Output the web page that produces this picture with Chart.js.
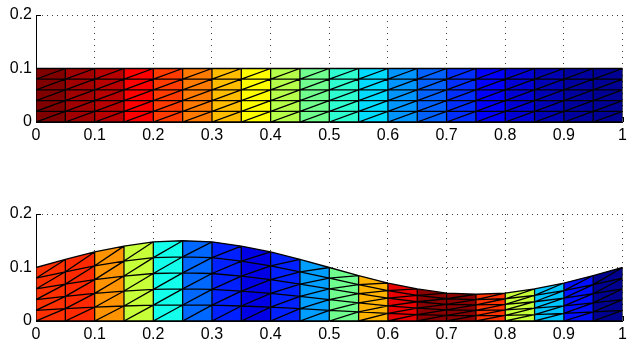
<!DOCTYPE html>
<html><head><meta charset="utf-8">
<script src="https://cdn.jsdelivr.net/npm/chart.js@4.4.0/dist/chart.umd.min.js"></script>
<style>
html,body{margin:0;padding:0;background:#fff;overflow:hidden;width:631px;height:341px}
canvas{position:absolute;left:0}
#c1{top:0}
#c2{top:199px}
</style></head><body>
<canvas id="c1" width="631" height="152"></canvas>
<canvas id="c2" width="631" height="152"></canvas>
<script>
// ---- data ----
const xNodes = [0, 0.05, 0.1, 0.15, 0.2, 0.25, 0.3, 0.35, 0.4, 0.45, 0.5, 0.55, 0.6, 0.65, 0.7, 0.75, 0.8, 0.85, 0.9, 0.95, 1];
const rowFractions = [0, 0.2, 0.4, 0.6, 0.8, 1];
// top boundary height of the mesh at each x node
const topPlotHeights = [0.1, 0.1, 0.1, 0.1, 0.1, 0.1, 0.1, 0.1, 0.1, 0.1, 0.1, 0.1, 0.1, 0.1, 0.1, 0.1, 0.1, 0.1, 0.1, 0.1, 0.1];
const bottomPlotHeights = [0.100, 0.115, 0.129, 0.140, 0.148, 0.150, 0.148, 0.140, 0.129, 0.115, 0.100, 0.085, 0.071, 0.060, 0.052, 0.050, 0.052, 0.060, 0.071, 0.085, 0.100];
// colormap value (0..1, jet) of each column
const topColumnValues = [1.00, 0.967, 0.945, 0.875, 0.817, 0.755, 0.69, 0.625, 0.552, 0.485, 0.42, 0.34, 0.27, 0.22, 0.17, 0.12, 0.083, 0.052, 0.031, 0.02];
const bottomColumnValues = [0.828, 0.835, 0.73, 0.57, 0.395, 0.227, 0.156, 0.10, 0.156, 0.28, 0.485, 0.70, 0.897, 0.99, 0.99, 0.825, 0.57, 0.317, 0.14, 0.016];
const xTickValues = [0, 0.1, 0.2, 0.3, 0.4, 0.5, 0.6, 0.7, 0.8, 0.9, 1];
const xTickLabels = ['0', '0.1', '0.2', '0.3', '0.4', '0.5', '0.6', '0.7', '0.8', '0.9', '1'];
const yTickValues = [0, 0.1, 0.2];
const yTickLabels = ['0', '0.1', '0.2'];

// ---- jet colormap ----
function clamp01(t){ return Math.max(0, Math.min(1, t)); }
function jet(v){
  const r = clamp01(1.5 - Math.abs(4*v - 3));
  const g = clamp01(1.5 - Math.abs(4*v - 2));
  const b = clamp01(1.5 - Math.abs(4*v - 1));
  return 'rgb(' + Math.round(r*255) + ',' + Math.round(g*255) + ',' + Math.round(b*255) + ')';
}

function buildDatasets(heights, values){
  const ds = [];
  const pts = [];
  const gap = () => ({x: 0, y: null});
  const n = xNodes.length;
  // horizontal mesh lines
  for (let j = 0; j < rowFractions.length; j++){
    for (let i = 0; i < n; i++) pts.push({x: xNodes[i], y: heights[i]*rowFractions[j]});
    pts.push(gap());
  }
  // vertical mesh lines
  for (let i = 0; i < n; i++){
    pts.push({x: xNodes[i], y: 0}, {x: xNodes[i], y: heights[i]}, gap());
  }
  // triangle diagonals
  for (let i = 0; i < n-1; i++){
    for (let j = 0; j < rowFractions.length-1; j++){
      pts.push({x: xNodes[i], y: heights[i]*rowFractions[j]},
               {x: xNodes[i+1], y: heights[i+1]*rowFractions[j+1]}, gap());
    }
  }
  ds.push({data: pts, borderColor: '#000', borderWidth: 1.3, pointRadius: 0, fill: false, spanGaps: false, tension: 0});
  for (let i = 0; i < n-1; i++){
    ds.push({
      data: [{x: xNodes[i], y: 0}, {x: xNodes[i+1], y: 0}, {x: xNodes[i+1], y: heights[i+1]}, {x: xNodes[i], y: heights[i]}],
      fill: 'shape', backgroundColor: jet(values[i]), borderWidth: 0, pointRadius: 0, tension: 0
    });
  }
  return ds;
}

const inwardTicks = {
  id: 'inwardTicks',
  beforeDatasetsDraw(chart){
    const {ctx, chartArea: a, scales: {x, y}} = chart;
    ctx.save();
    ctx.strokeStyle = '#000';
    ctx.lineWidth = 1;
    ctx.beginPath();
    x.ticks.forEach(t => { const p = Math.round(x.getPixelForValue(t.value)) + 0.5; ctx.moveTo(p, a.bottom); ctx.lineTo(p, a.bottom - 5); });
    y.ticks.forEach(t => { const p = Math.round(y.getPixelForValue(t.value)) + 0.5; ctx.moveTo(a.left, p); ctx.lineTo(a.left + 5, p); });
    ctx.stroke();
    ctx.restore();
  }
};

Chart.defaults.font.family = '"Liberation Sans", Arial, Helvetica, sans-serif';
Chart.defaults.font.size = 16;
Chart.defaults.color = '#000';

function makeChart(id, heights, values){
  return new Chart(document.getElementById(id), {
    type: 'line',
    data: {datasets: buildDatasets(heights, values)},
    plugins: [inwardTicks],
    options: {
      responsive: false,
      animation: false,
      events: [],
      layout: {padding: {top: 15, right: 5, left: 0, bottom: 0}},
      plugins: {legend: {display: false}, tooltip: {enabled: false}},
      scales: {
        x: {
          type: 'linear', min: 0, max: 1,
          afterBuildTicks: s => { s.ticks = xTickValues.map(v => ({value: v})); },
          afterFit: s => { s.height = 30; },
          ticks: {autoSkip: false, maxRotation: 0, padding: 4, callback: (v, i) => xTickLabels[i]},
          grid: {color: 'rgba(0,0,0,0.75)', lineWidth: 1, drawTicks: false},
          border: {display: true, color: '#000', width: 1, dash: [1, 5]}
        },
        y: {
          type: 'linear', min: 0, max: 0.2,
          afterBuildTicks: s => { s.ticks = yTickValues.map(v => ({value: v})); },
          afterFit: s => { s.width = 36; },
          ticks: {autoSkip: false, padding: 4, callback: (v, i) => yTickLabels[i]},
          grid: {color: 'rgba(0,0,0,0.75)', lineWidth: 1, drawTicks: false},
          border: {display: true, color: '#000', width: 1, dash: [1, 4]}
        }
      }
    }
  });
}

makeChart('c1', topPlotHeights, topColumnValues);
makeChart('c2', bottomPlotHeights, bottomColumnValues);
</script>
</body></html>
